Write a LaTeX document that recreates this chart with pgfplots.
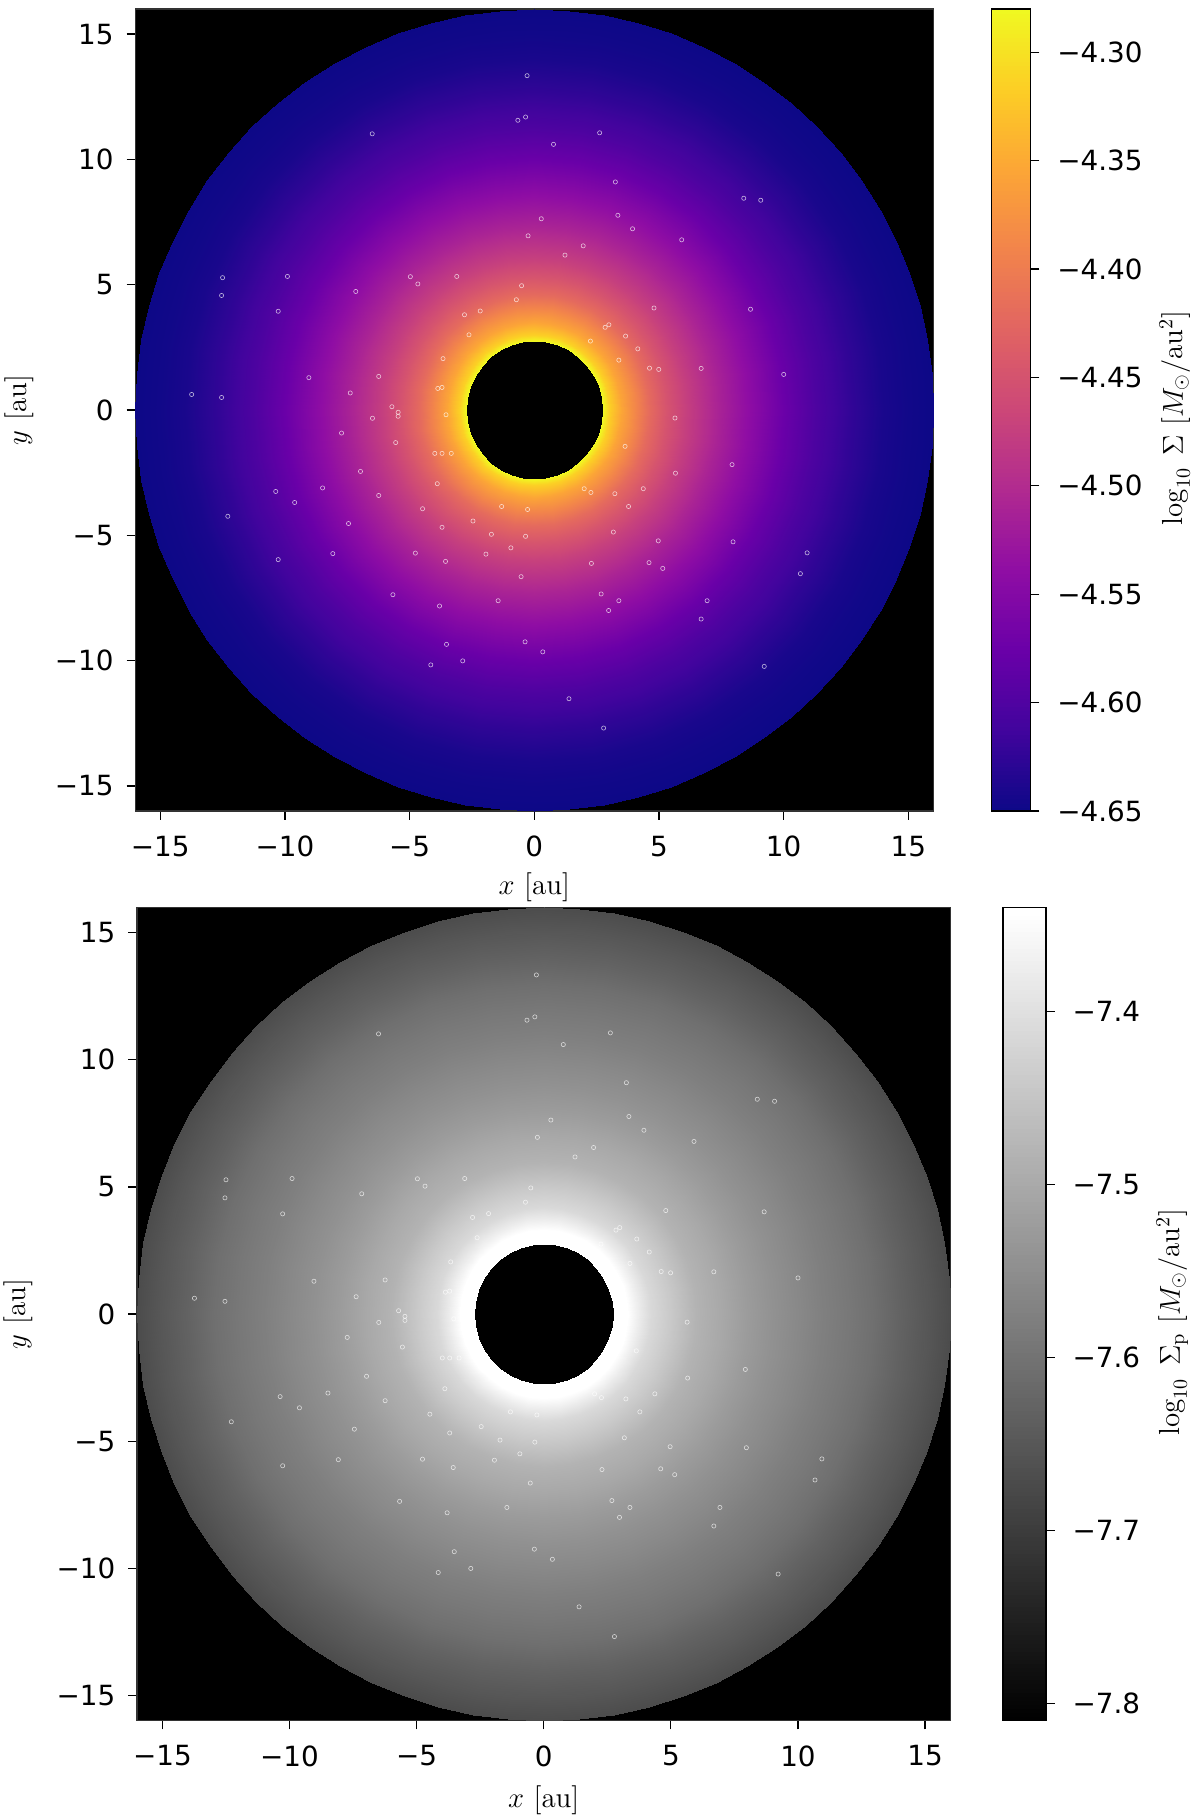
\documentclass[border=0pt]{standalone}
\usepackage{fontspec}
\usepackage{pgfplots}
\usepackage{pgfplotstable}
\pgfplotsset{compat=1.18}
\newfontfamily\dejavu{DejaVu Sans}
\newcommand\tl{\dejavu\fontsize{13.9}{16}\selectfont}
\newcommand\lbl{\fontsize{14.5}{17}\selectfont}
\pgfplotsset{colormap={plasma}{rgb255=(13,8,135) rgb255=(65,4,157) rgb255=(106,0,168) rgb255=(143,13,164) rgb255=(177,42,144) rgb255=(204,71,120) rgb255=(225,100,98) rgb255=(242,132,75) rgb255=(252,166,54) rgb255=(252,206,37) rgb255=(240,249,33)}}

% gas surface density, inner part: angle (deg), radius (au), log10 Sigma
\pgfplotstableread{
a r v
0 2.75 -4.280
10 2.75 -4.280
20 2.75 -4.280
30 2.75 -4.280
40 2.75 -4.280
50 2.75 -4.280
60 2.75 -4.280
70 2.75 -4.280
80 2.75 -4.280
90 2.75 -4.280
100 2.75 -4.280
110 2.75 -4.280
120 2.75 -4.280
130 2.75 -4.280
140 2.75 -4.280
150 2.75 -4.280
160 2.75 -4.280
170 2.75 -4.280
180 2.75 -4.280
190 2.75 -4.280
200 2.75 -4.280
210 2.75 -4.280
220 2.75 -4.280
230 2.75 -4.280
240 2.75 -4.280
250 2.75 -4.280
260 2.75 -4.280
270 2.75 -4.280
280 2.75 -4.280
290 2.75 -4.280
300 2.75 -4.280
310 2.75 -4.280
320 2.75 -4.280
330 2.75 -4.280
340 2.75 -4.280
350 2.75 -4.280
360 2.75 -4.280

0 3.0 -4.315
10 3.0 -4.315
20 3.0 -4.315
30 3.0 -4.315
40 3.0 -4.315
50 3.0 -4.315
60 3.0 -4.315
70 3.0 -4.315
80 3.0 -4.315
90 3.0 -4.315
100 3.0 -4.315
110 3.0 -4.315
120 3.0 -4.315
130 3.0 -4.315
140 3.0 -4.315
150 3.0 -4.315
160 3.0 -4.315
170 3.0 -4.315
180 3.0 -4.315
190 3.0 -4.315
200 3.0 -4.315
210 3.0 -4.315
220 3.0 -4.315
230 3.0 -4.315
240 3.0 -4.315
250 3.0 -4.315
260 3.0 -4.315
270 3.0 -4.315
280 3.0 -4.315
290 3.0 -4.315
300 3.0 -4.315
310 3.0 -4.315
320 3.0 -4.315
330 3.0 -4.315
340 3.0 -4.315
350 3.0 -4.315
360 3.0 -4.315

0 3.5 -4.356
10 3.5 -4.356
20 3.5 -4.356
30 3.5 -4.356
40 3.5 -4.356
50 3.5 -4.356
60 3.5 -4.356
70 3.5 -4.356
80 3.5 -4.356
90 3.5 -4.356
100 3.5 -4.356
110 3.5 -4.356
120 3.5 -4.356
130 3.5 -4.356
140 3.5 -4.356
150 3.5 -4.356
160 3.5 -4.356
170 3.5 -4.356
180 3.5 -4.356
190 3.5 -4.356
200 3.5 -4.356
210 3.5 -4.356
220 3.5 -4.356
230 3.5 -4.356
240 3.5 -4.356
250 3.5 -4.356
260 3.5 -4.356
270 3.5 -4.356
280 3.5 -4.356
290 3.5 -4.356
300 3.5 -4.356
310 3.5 -4.356
320 3.5 -4.356
330 3.5 -4.356
340 3.5 -4.356
350 3.5 -4.356
360 3.5 -4.356

0 4.0 -4.386
10 4.0 -4.386
20 4.0 -4.386
30 4.0 -4.386
40 4.0 -4.386
50 4.0 -4.386
60 4.0 -4.386
70 4.0 -4.386
80 4.0 -4.386
90 4.0 -4.386
100 4.0 -4.386
110 4.0 -4.386
120 4.0 -4.386
130 4.0 -4.386
140 4.0 -4.386
150 4.0 -4.386
160 4.0 -4.386
170 4.0 -4.386
180 4.0 -4.386
190 4.0 -4.386
200 4.0 -4.386
210 4.0 -4.386
220 4.0 -4.386
230 4.0 -4.386
240 4.0 -4.386
250 4.0 -4.386
260 4.0 -4.386
270 4.0 -4.386
280 4.0 -4.386
290 4.0 -4.386
300 4.0 -4.386
310 4.0 -4.386
320 4.0 -4.386
330 4.0 -4.386
340 4.0 -4.386
350 4.0 -4.386
360 4.0 -4.386

0 4.6 -4.420
10 4.6 -4.420
20 4.6 -4.420
30 4.6 -4.420
40 4.6 -4.420
50 4.6 -4.420
60 4.6 -4.420
70 4.6 -4.420
80 4.6 -4.420
90 4.6 -4.420
100 4.6 -4.420
110 4.6 -4.420
120 4.6 -4.420
130 4.6 -4.420
140 4.6 -4.420
150 4.6 -4.420
160 4.6 -4.420
170 4.6 -4.420
180 4.6 -4.420
190 4.6 -4.420
200 4.6 -4.420
210 4.6 -4.420
220 4.6 -4.420
230 4.6 -4.420
240 4.6 -4.420
250 4.6 -4.420
260 4.6 -4.420
270 4.6 -4.420
280 4.6 -4.420
290 4.6 -4.420
300 4.6 -4.420
310 4.6 -4.420
320 4.6 -4.420
330 4.6 -4.420
340 4.6 -4.420
350 4.6 -4.420
360 4.6 -4.420

0 5.3 -4.448
10 5.3 -4.448
20 5.3 -4.448
30 5.3 -4.448
40 5.3 -4.448
50 5.3 -4.448
60 5.3 -4.448
70 5.3 -4.448
80 5.3 -4.448
90 5.3 -4.448
100 5.3 -4.448
110 5.3 -4.448
120 5.3 -4.448
130 5.3 -4.448
140 5.3 -4.448
150 5.3 -4.448
160 5.3 -4.448
170 5.3 -4.448
180 5.3 -4.448
190 5.3 -4.448
200 5.3 -4.448
210 5.3 -4.448
220 5.3 -4.448
230 5.3 -4.448
240 5.3 -4.448
250 5.3 -4.448
260 5.3 -4.448
270 5.3 -4.448
280 5.3 -4.448
290 5.3 -4.448
300 5.3 -4.448
310 5.3 -4.448
320 5.3 -4.448
330 5.3 -4.448
340 5.3 -4.448
350 5.3 -4.448
360 5.3 -4.448

0 6.0 -4.472
10 6.0 -4.472
20 6.0 -4.472
30 6.0 -4.472
40 6.0 -4.472
50 6.0 -4.472
60 6.0 -4.472
70 6.0 -4.472
80 6.0 -4.472
90 6.0 -4.472
100 6.0 -4.472
110 6.0 -4.472
120 6.0 -4.472
130 6.0 -4.472
140 6.0 -4.472
150 6.0 -4.472
160 6.0 -4.472
170 6.0 -4.472
180 6.0 -4.472
190 6.0 -4.472
200 6.0 -4.472
210 6.0 -4.472
220 6.0 -4.472
230 6.0 -4.472
240 6.0 -4.472
250 6.0 -4.472
260 6.0 -4.472
270 6.0 -4.472
280 6.0 -4.472
290 6.0 -4.472
300 6.0 -4.472
310 6.0 -4.472
320 6.0 -4.472
330 6.0 -4.472
340 6.0 -4.472
350 6.0 -4.472
360 6.0 -4.472

0 7.3 -4.509
10 7.3 -4.509
20 7.3 -4.509
30 7.3 -4.509
40 7.3 -4.509
50 7.3 -4.509
60 7.3 -4.509
70 7.3 -4.509
80 7.3 -4.509
90 7.3 -4.509
100 7.3 -4.509
110 7.3 -4.509
120 7.3 -4.509
130 7.3 -4.509
140 7.3 -4.509
150 7.3 -4.509
160 7.3 -4.509
170 7.3 -4.509
180 7.3 -4.509
190 7.3 -4.509
200 7.3 -4.509
210 7.3 -4.509
220 7.3 -4.509
230 7.3 -4.509
240 7.3 -4.509
250 7.3 -4.509
260 7.3 -4.509
270 7.3 -4.509
280 7.3 -4.509
290 7.3 -4.509
300 7.3 -4.509
310 7.3 -4.509
320 7.3 -4.509
330 7.3 -4.509
340 7.3 -4.509
350 7.3 -4.509
360 7.3 -4.509

0 8.6 -4.540
10 8.6 -4.540
20 8.6 -4.540
30 8.6 -4.540
40 8.6 -4.540
50 8.6 -4.540
60 8.6 -4.540
70 8.6 -4.540
80 8.6 -4.540
90 8.6 -4.540
100 8.6 -4.540
110 8.6 -4.540
120 8.6 -4.540
130 8.6 -4.540
140 8.6 -4.540
150 8.6 -4.540
160 8.6 -4.540
170 8.6 -4.540
180 8.6 -4.540
190 8.6 -4.540
200 8.6 -4.540
210 8.6 -4.540
220 8.6 -4.540
230 8.6 -4.540
240 8.6 -4.540
250 8.6 -4.540
260 8.6 -4.540
270 8.6 -4.540
280 8.6 -4.540
290 8.6 -4.540
300 8.6 -4.540
310 8.6 -4.540
320 8.6 -4.540
330 8.6 -4.540
340 8.6 -4.540
350 8.6 -4.540
360 8.6 -4.540

0 10 -4.576
10 10 -4.576
20 10 -4.576
30 10 -4.576
40 10 -4.576
50 10 -4.576
60 10 -4.576
70 10 -4.576
80 10 -4.576
90 10 -4.576
100 10 -4.576
110 10 -4.576
120 10 -4.576
130 10 -4.576
140 10 -4.576
150 10 -4.576
160 10 -4.576
170 10 -4.576
180 10 -4.576
190 10 -4.576
200 10 -4.576
210 10 -4.576
220 10 -4.576
230 10 -4.576
240 10 -4.576
250 10 -4.576
260 10 -4.576
270 10 -4.576
280 10 -4.576
290 10 -4.576
300 10 -4.576
310 10 -4.576
320 10 -4.576
330 10 -4.576
340 10 -4.576
350 10 -4.576
360 10 -4.576

0 11.3 -4.602
10 11.3 -4.602
20 11.3 -4.602
30 11.3 -4.602
40 11.3 -4.602
50 11.3 -4.602
60 11.3 -4.602
70 11.3 -4.602
80 11.3 -4.602
90 11.3 -4.602
100 11.3 -4.602
110 11.3 -4.602
120 11.3 -4.602
130 11.3 -4.602
140 11.3 -4.602
150 11.3 -4.602
160 11.3 -4.602
170 11.3 -4.602
180 11.3 -4.602
190 11.3 -4.602
200 11.3 -4.602
210 11.3 -4.602
220 11.3 -4.602
230 11.3 -4.602
240 11.3 -4.602
250 11.3 -4.602
260 11.3 -4.602
270 11.3 -4.602
280 11.3 -4.602
290 11.3 -4.602
300 11.3 -4.602
310 11.3 -4.602
320 11.3 -4.602
330 11.3 -4.602
340 11.3 -4.602
350 11.3 -4.602
360 11.3 -4.602

0 12.7 -4.624
10 12.7 -4.624
20 12.7 -4.624
30 12.7 -4.624
40 12.7 -4.624
50 12.7 -4.624
60 12.7 -4.624
70 12.7 -4.624
80 12.7 -4.624
90 12.7 -4.624
100 12.7 -4.624
110 12.7 -4.624
120 12.7 -4.624
130 12.7 -4.624
140 12.7 -4.624
150 12.7 -4.624
160 12.7 -4.624
170 12.7 -4.624
180 12.7 -4.624
190 12.7 -4.624
200 12.7 -4.624
210 12.7 -4.624
220 12.7 -4.624
230 12.7 -4.624
240 12.7 -4.624
250 12.7 -4.624
260 12.7 -4.624
270 12.7 -4.624
280 12.7 -4.624
290 12.7 -4.624
300 12.7 -4.624
310 12.7 -4.624
320 12.7 -4.624
330 12.7 -4.624
340 12.7 -4.624
350 12.7 -4.624
360 12.7 -4.624

0 14 -4.641
10 14 -4.641
20 14 -4.641
30 14 -4.641
40 14 -4.641
50 14 -4.641
60 14 -4.641
70 14 -4.641
80 14 -4.641
90 14 -4.641
100 14 -4.641
110 14 -4.641
120 14 -4.641
130 14 -4.641
140 14 -4.641
150 14 -4.641
160 14 -4.641
170 14 -4.641
180 14 -4.641
190 14 -4.641
200 14 -4.641
210 14 -4.641
220 14 -4.641
230 14 -4.641
240 14 -4.641
250 14 -4.641
260 14 -4.641
270 14 -4.641
280 14 -4.641
290 14 -4.641
300 14 -4.641
310 14 -4.641
320 14 -4.641
330 14 -4.641
340 14 -4.641
350 14 -4.641
360 14 -4.641

0 15.2 -4.648
10 15.2 -4.648
20 15.2 -4.648
30 15.2 -4.648
40 15.2 -4.648
50 15.2 -4.648
60 15.2 -4.648
70 15.2 -4.648
80 15.2 -4.648
90 15.2 -4.648
100 15.2 -4.648
110 15.2 -4.648
120 15.2 -4.648
130 15.2 -4.648
140 15.2 -4.648
150 15.2 -4.648
160 15.2 -4.648
170 15.2 -4.648
180 15.2 -4.648
190 15.2 -4.648
200 15.2 -4.648
210 15.2 -4.648
220 15.2 -4.648
230 15.2 -4.648
240 15.2 -4.648
250 15.2 -4.648
260 15.2 -4.648
270 15.2 -4.648
280 15.2 -4.648
290 15.2 -4.648
300 15.2 -4.648
310 15.2 -4.648
320 15.2 -4.648
330 15.2 -4.648
340 15.2 -4.648
350 15.2 -4.648
360 15.2 -4.648
}\gasdata

% gas surface density, outer rim (finer in angle)
\pgfplotstableread{
a r v
0 15 -4.647
5 15 -4.647
10 15 -4.647
15 15 -4.647
20 15 -4.647
25 15 -4.647
30 15 -4.647
35 15 -4.647
40 15 -4.647
45 15 -4.647
50 15 -4.647
55 15 -4.647
60 15 -4.647
65 15 -4.647
70 15 -4.647
75 15 -4.647
80 15 -4.647
85 15 -4.647
90 15 -4.647
95 15 -4.647
100 15 -4.647
105 15 -4.647
110 15 -4.647
115 15 -4.647
120 15 -4.647
125 15 -4.647
130 15 -4.647
135 15 -4.647
140 15 -4.647
145 15 -4.647
150 15 -4.647
155 15 -4.647
160 15 -4.647
165 15 -4.647
170 15 -4.647
175 15 -4.647
180 15 -4.647
185 15 -4.647
190 15 -4.647
195 15 -4.647
200 15 -4.647
205 15 -4.647
210 15 -4.647
215 15 -4.647
220 15 -4.647
225 15 -4.647
230 15 -4.647
235 15 -4.647
240 15 -4.647
245 15 -4.647
250 15 -4.647
255 15 -4.647
260 15 -4.647
265 15 -4.647
270 15 -4.647
275 15 -4.647
280 15 -4.647
285 15 -4.647
290 15 -4.647
295 15 -4.647
300 15 -4.647
305 15 -4.647
310 15 -4.647
315 15 -4.647
320 15 -4.647
325 15 -4.647
330 15 -4.647
335 15 -4.647
340 15 -4.647
345 15 -4.647
350 15 -4.647
355 15 -4.647
360 15 -4.647

0 16 -4.650
5 16 -4.650
10 16 -4.650
15 16 -4.650
20 16 -4.650
25 16 -4.650
30 16 -4.650
35 16 -4.650
40 16 -4.650
45 16 -4.650
50 16 -4.650
55 16 -4.650
60 16 -4.650
65 16 -4.650
70 16 -4.650
75 16 -4.650
80 16 -4.650
85 16 -4.650
90 16 -4.650
95 16 -4.650
100 16 -4.650
105 16 -4.650
110 16 -4.650
115 16 -4.650
120 16 -4.650
125 16 -4.650
130 16 -4.650
135 16 -4.650
140 16 -4.650
145 16 -4.650
150 16 -4.650
155 16 -4.650
160 16 -4.650
165 16 -4.650
170 16 -4.650
175 16 -4.650
180 16 -4.650
185 16 -4.650
190 16 -4.650
195 16 -4.650
200 16 -4.650
205 16 -4.650
210 16 -4.650
215 16 -4.650
220 16 -4.650
225 16 -4.650
230 16 -4.650
235 16 -4.650
240 16 -4.650
245 16 -4.650
250 16 -4.650
255 16 -4.650
260 16 -4.650
265 16 -4.650
270 16 -4.650
275 16 -4.650
280 16 -4.650
285 16 -4.650
290 16 -4.650
295 16 -4.650
300 16 -4.650
305 16 -4.650
310 16 -4.650
315 16 -4.650
320 16 -4.650
325 16 -4.650
330 16 -4.650
335 16 -4.650
340 16 -4.650
345 16 -4.650
350 16 -4.650
355 16 -4.650
360 16 -4.650
}\gasrim

% particle surface density, inner part: angle (deg), radius (au), log10 Sigma_p
\pgfplotstableread{
a r v
0 2.75 -7.34
10 2.75 -7.34
20 2.75 -7.34
30 2.75 -7.34
40 2.75 -7.34
50 2.75 -7.34
60 2.75 -7.34
70 2.75 -7.34
80 2.75 -7.34
90 2.75 -7.34
100 2.75 -7.34
110 2.75 -7.34
120 2.75 -7.34
130 2.75 -7.34
140 2.75 -7.34
150 2.75 -7.34
160 2.75 -7.34
170 2.75 -7.34
180 2.75 -7.34
190 2.75 -7.34
200 2.75 -7.34
210 2.75 -7.34
220 2.75 -7.34
230 2.75 -7.34
240 2.75 -7.34
250 2.75 -7.34
260 2.75 -7.34
270 2.75 -7.34
280 2.75 -7.34
290 2.75 -7.34
300 2.75 -7.34
310 2.75 -7.34
320 2.75 -7.34
330 2.75 -7.34
340 2.75 -7.34
350 2.75 -7.34
360 2.75 -7.34

0 3.3 -7.34
10 3.3 -7.34
20 3.3 -7.34
30 3.3 -7.34
40 3.3 -7.34
50 3.3 -7.34
60 3.3 -7.34
70 3.3 -7.34
80 3.3 -7.34
90 3.3 -7.34
100 3.3 -7.34
110 3.3 -7.34
120 3.3 -7.34
130 3.3 -7.34
140 3.3 -7.34
150 3.3 -7.34
160 3.3 -7.34
170 3.3 -7.34
180 3.3 -7.34
190 3.3 -7.34
200 3.3 -7.34
210 3.3 -7.34
220 3.3 -7.34
230 3.3 -7.34
240 3.3 -7.34
250 3.3 -7.34
260 3.3 -7.34
270 3.3 -7.34
280 3.3 -7.34
290 3.3 -7.34
300 3.3 -7.34
310 3.3 -7.34
320 3.3 -7.34
330 3.3 -7.34
340 3.3 -7.34
350 3.3 -7.34
360 3.3 -7.34

0 3.7 -7.372
10 3.7 -7.372
20 3.7 -7.372
30 3.7 -7.372
40 3.7 -7.372
50 3.7 -7.372
60 3.7 -7.372
70 3.7 -7.372
80 3.7 -7.372
90 3.7 -7.372
100 3.7 -7.372
110 3.7 -7.372
120 3.7 -7.372
130 3.7 -7.372
140 3.7 -7.372
150 3.7 -7.372
160 3.7 -7.372
170 3.7 -7.372
180 3.7 -7.372
190 3.7 -7.372
200 3.7 -7.372
210 3.7 -7.372
220 3.7 -7.372
230 3.7 -7.372
240 3.7 -7.372
250 3.7 -7.372
260 3.7 -7.372
270 3.7 -7.372
280 3.7 -7.372
290 3.7 -7.372
300 3.7 -7.372
310 3.7 -7.372
320 3.7 -7.372
330 3.7 -7.372
340 3.7 -7.372
350 3.7 -7.372
360 3.7 -7.372

0 4.2 -7.410
10 4.2 -7.410
20 4.2 -7.410
30 4.2 -7.410
40 4.2 -7.410
50 4.2 -7.410
60 4.2 -7.410
70 4.2 -7.410
80 4.2 -7.410
90 4.2 -7.410
100 4.2 -7.410
110 4.2 -7.410
120 4.2 -7.410
130 4.2 -7.410
140 4.2 -7.410
150 4.2 -7.410
160 4.2 -7.410
170 4.2 -7.410
180 4.2 -7.410
190 4.2 -7.410
200 4.2 -7.410
210 4.2 -7.410
220 4.2 -7.410
230 4.2 -7.410
240 4.2 -7.410
250 4.2 -7.410
260 4.2 -7.410
270 4.2 -7.410
280 4.2 -7.410
290 4.2 -7.410
300 4.2 -7.410
310 4.2 -7.410
320 4.2 -7.410
330 4.2 -7.410
340 4.2 -7.410
350 4.2 -7.410
360 4.2 -7.410

0 5 -7.440
10 5 -7.440
20 5 -7.440
30 5 -7.440
40 5 -7.440
50 5 -7.440
60 5 -7.440
70 5 -7.440
80 5 -7.440
90 5 -7.440
100 5 -7.440
110 5 -7.440
120 5 -7.440
130 5 -7.440
140 5 -7.440
150 5 -7.440
160 5 -7.440
170 5 -7.440
180 5 -7.440
190 5 -7.440
200 5 -7.440
210 5 -7.440
220 5 -7.440
230 5 -7.440
240 5 -7.440
250 5 -7.440
260 5 -7.440
270 5 -7.440
280 5 -7.440
290 5 -7.440
300 5 -7.440
310 5 -7.440
320 5 -7.440
330 5 -7.440
340 5 -7.440
350 5 -7.440
360 5 -7.440

0 6 -7.480
10 6 -7.480
20 6 -7.480
30 6 -7.480
40 6 -7.480
50 6 -7.480
60 6 -7.480
70 6 -7.480
80 6 -7.480
90 6 -7.480
100 6 -7.480
110 6 -7.480
120 6 -7.480
130 6 -7.480
140 6 -7.480
150 6 -7.480
160 6 -7.480
170 6 -7.480
180 6 -7.480
190 6 -7.480
200 6 -7.480
210 6 -7.480
220 6 -7.480
230 6 -7.480
240 6 -7.480
250 6 -7.480
260 6 -7.480
270 6 -7.480
280 6 -7.480
290 6 -7.480
300 6 -7.480
310 6 -7.480
320 6 -7.480
330 6 -7.480
340 6 -7.480
350 6 -7.480
360 6 -7.480

0 7 -7.500
10 7 -7.500
20 7 -7.500
30 7 -7.500
40 7 -7.500
50 7 -7.500
60 7 -7.500
70 7 -7.500
80 7 -7.500
90 7 -7.500
100 7 -7.500
110 7 -7.500
120 7 -7.500
130 7 -7.500
140 7 -7.500
150 7 -7.500
160 7 -7.500
170 7 -7.500
180 7 -7.500
190 7 -7.500
200 7 -7.500
210 7 -7.500
220 7 -7.500
230 7 -7.500
240 7 -7.500
250 7 -7.500
260 7 -7.500
270 7 -7.500
280 7 -7.500
290 7 -7.500
300 7 -7.500
310 7 -7.500
320 7 -7.500
330 7 -7.500
340 7 -7.500
350 7 -7.500
360 7 -7.500

0 8 -7.523
10 8 -7.523
20 8 -7.523
30 8 -7.523
40 8 -7.523
50 8 -7.523
60 8 -7.523
70 8 -7.523
80 8 -7.523
90 8 -7.523
100 8 -7.523
110 8 -7.523
120 8 -7.523
130 8 -7.523
140 8 -7.523
150 8 -7.523
160 8 -7.523
170 8 -7.523
180 8 -7.523
190 8 -7.523
200 8 -7.523
210 8 -7.523
220 8 -7.523
230 8 -7.523
240 8 -7.523
250 8 -7.523
260 8 -7.523
270 8 -7.523
280 8 -7.523
290 8 -7.523
300 8 -7.523
310 8 -7.523
320 8 -7.523
330 8 -7.523
340 8 -7.523
350 8 -7.523
360 8 -7.523

0 9 -7.542
10 9 -7.542
20 9 -7.542
30 9 -7.542
40 9 -7.542
50 9 -7.542
60 9 -7.542
70 9 -7.542
80 9 -7.542
90 9 -7.542
100 9 -7.542
110 9 -7.542
120 9 -7.542
130 9 -7.542
140 9 -7.542
150 9 -7.542
160 9 -7.542
170 9 -7.542
180 9 -7.542
190 9 -7.542
200 9 -7.542
210 9 -7.542
220 9 -7.542
230 9 -7.542
240 9 -7.542
250 9 -7.542
260 9 -7.542
270 9 -7.542
280 9 -7.542
290 9 -7.542
300 9 -7.542
310 9 -7.542
320 9 -7.542
330 9 -7.542
340 9 -7.542
350 9 -7.542
360 9 -7.542

0 10 -7.558
10 10 -7.558
20 10 -7.558
30 10 -7.558
40 10 -7.558
50 10 -7.558
60 10 -7.558
70 10 -7.558
80 10 -7.558
90 10 -7.558
100 10 -7.558
110 10 -7.558
120 10 -7.558
130 10 -7.558
140 10 -7.558
150 10 -7.558
160 10 -7.558
170 10 -7.558
180 10 -7.558
190 10 -7.558
200 10 -7.558
210 10 -7.558
220 10 -7.558
230 10 -7.558
240 10 -7.558
250 10 -7.558
260 10 -7.558
270 10 -7.558
280 10 -7.558
290 10 -7.558
300 10 -7.558
310 10 -7.558
320 10 -7.558
330 10 -7.558
340 10 -7.558
350 10 -7.558
360 10 -7.558

0 11 -7.575
10 11 -7.575
20 11 -7.575
30 11 -7.575
40 11 -7.575
50 11 -7.575
60 11 -7.575
70 11 -7.575
80 11 -7.575
90 11 -7.575
100 11 -7.575
110 11 -7.575
120 11 -7.575
130 11 -7.575
140 11 -7.575
150 11 -7.575
160 11 -7.575
170 11 -7.575
180 11 -7.575
190 11 -7.575
200 11 -7.575
210 11 -7.575
220 11 -7.575
230 11 -7.575
240 11 -7.575
250 11 -7.575
260 11 -7.575
270 11 -7.575
280 11 -7.575
290 11 -7.575
300 11 -7.575
310 11 -7.575
320 11 -7.575
330 11 -7.575
340 11 -7.575
350 11 -7.575
360 11 -7.575

0 12 -7.589
10 12 -7.589
20 12 -7.589
30 12 -7.589
40 12 -7.589
50 12 -7.589
60 12 -7.589
70 12 -7.589
80 12 -7.589
90 12 -7.589
100 12 -7.589
110 12 -7.589
120 12 -7.589
130 12 -7.589
140 12 -7.589
150 12 -7.589
160 12 -7.589
170 12 -7.589
180 12 -7.589
190 12 -7.589
200 12 -7.589
210 12 -7.589
220 12 -7.589
230 12 -7.589
240 12 -7.589
250 12 -7.589
260 12 -7.589
270 12 -7.589
280 12 -7.589
290 12 -7.589
300 12 -7.589
310 12 -7.589
320 12 -7.589
330 12 -7.589
340 12 -7.589
350 12 -7.589
360 12 -7.589

0 13 -7.605
10 13 -7.605
20 13 -7.605
30 13 -7.605
40 13 -7.605
50 13 -7.605
60 13 -7.605
70 13 -7.605
80 13 -7.605
90 13 -7.605
100 13 -7.605
110 13 -7.605
120 13 -7.605
130 13 -7.605
140 13 -7.605
150 13 -7.605
160 13 -7.605
170 13 -7.605
180 13 -7.605
190 13 -7.605
200 13 -7.605
210 13 -7.605
220 13 -7.605
230 13 -7.605
240 13 -7.605
250 13 -7.605
260 13 -7.605
270 13 -7.605
280 13 -7.605
290 13 -7.605
300 13 -7.605
310 13 -7.605
320 13 -7.605
330 13 -7.605
340 13 -7.605
350 13 -7.605
360 13 -7.605

0 14 -7.628
10 14 -7.628
20 14 -7.628
30 14 -7.628
40 14 -7.628
50 14 -7.628
60 14 -7.628
70 14 -7.628
80 14 -7.628
90 14 -7.628
100 14 -7.628
110 14 -7.628
120 14 -7.628
130 14 -7.628
140 14 -7.628
150 14 -7.628
160 14 -7.628
170 14 -7.628
180 14 -7.628
190 14 -7.628
200 14 -7.628
210 14 -7.628
220 14 -7.628
230 14 -7.628
240 14 -7.628
250 14 -7.628
260 14 -7.628
270 14 -7.628
280 14 -7.628
290 14 -7.628
300 14 -7.628
310 14 -7.628
320 14 -7.628
330 14 -7.628
340 14 -7.628
350 14 -7.628
360 14 -7.628

0 15.2 -7.652
10 15.2 -7.652
20 15.2 -7.652
30 15.2 -7.652
40 15.2 -7.652
50 15.2 -7.652
60 15.2 -7.652
70 15.2 -7.652
80 15.2 -7.652
90 15.2 -7.652
100 15.2 -7.652
110 15.2 -7.652
120 15.2 -7.652
130 15.2 -7.652
140 15.2 -7.652
150 15.2 -7.652
160 15.2 -7.652
170 15.2 -7.652
180 15.2 -7.652
190 15.2 -7.652
200 15.2 -7.652
210 15.2 -7.652
220 15.2 -7.652
230 15.2 -7.652
240 15.2 -7.652
250 15.2 -7.652
260 15.2 -7.652
270 15.2 -7.652
280 15.2 -7.652
290 15.2 -7.652
300 15.2 -7.652
310 15.2 -7.652
320 15.2 -7.652
330 15.2 -7.652
340 15.2 -7.652
350 15.2 -7.652
360 15.2 -7.652
}\dustdata

% particle surface density, outer rim (finer in angle)
\pgfplotstableread{
a r v
0 15 -7.648
5 15 -7.648
10 15 -7.648
15 15 -7.648
20 15 -7.648
25 15 -7.648
30 15 -7.648
35 15 -7.648
40 15 -7.648
45 15 -7.648
50 15 -7.648
55 15 -7.648
60 15 -7.648
65 15 -7.648
70 15 -7.648
75 15 -7.648
80 15 -7.648
85 15 -7.648
90 15 -7.648
95 15 -7.648
100 15 -7.648
105 15 -7.648
110 15 -7.648
115 15 -7.648
120 15 -7.648
125 15 -7.648
130 15 -7.648
135 15 -7.648
140 15 -7.648
145 15 -7.648
150 15 -7.648
155 15 -7.648
160 15 -7.648
165 15 -7.648
170 15 -7.648
175 15 -7.648
180 15 -7.648
185 15 -7.648
190 15 -7.648
195 15 -7.648
200 15 -7.648
205 15 -7.648
210 15 -7.648
215 15 -7.648
220 15 -7.648
225 15 -7.648
230 15 -7.648
235 15 -7.648
240 15 -7.648
245 15 -7.648
250 15 -7.648
255 15 -7.648
260 15 -7.648
265 15 -7.648
270 15 -7.648
275 15 -7.648
280 15 -7.648
285 15 -7.648
290 15 -7.648
295 15 -7.648
300 15 -7.648
305 15 -7.648
310 15 -7.648
315 15 -7.648
320 15 -7.648
325 15 -7.648
330 15 -7.648
335 15 -7.648
340 15 -7.648
345 15 -7.648
350 15 -7.648
355 15 -7.648
360 15 -7.648

0 16 -7.670
5 16 -7.670
10 16 -7.670
15 16 -7.670
20 16 -7.670
25 16 -7.670
30 16 -7.670
35 16 -7.670
40 16 -7.670
45 16 -7.670
50 16 -7.670
55 16 -7.670
60 16 -7.670
65 16 -7.670
70 16 -7.670
75 16 -7.670
80 16 -7.670
85 16 -7.670
90 16 -7.670
95 16 -7.670
100 16 -7.670
105 16 -7.670
110 16 -7.670
115 16 -7.670
120 16 -7.670
125 16 -7.670
130 16 -7.670
135 16 -7.670
140 16 -7.670
145 16 -7.670
150 16 -7.670
155 16 -7.670
160 16 -7.670
165 16 -7.670
170 16 -7.670
175 16 -7.670
180 16 -7.670
185 16 -7.670
190 16 -7.670
195 16 -7.670
200 16 -7.670
205 16 -7.670
210 16 -7.670
215 16 -7.670
220 16 -7.670
225 16 -7.670
230 16 -7.670
235 16 -7.670
240 16 -7.670
245 16 -7.670
250 16 -7.670
255 16 -7.670
260 16 -7.670
265 16 -7.670
270 16 -7.670
275 16 -7.670
280 16 -7.670
285 16 -7.670
290 16 -7.670
295 16 -7.670
300 16 -7.670
305 16 -7.670
310 16 -7.670
315 16 -7.670
320 16 -7.670
325 16 -7.670
330 16 -7.670
335 16 -7.670
340 16 -7.670
345 16 -7.670
350 16 -7.670
355 16 -7.670
360 16 -7.670
}\dustrim

% positions of the embedded bodies (au)
\pgfplotstableread{
x y
-0.29 13.34
-0.66 11.56
-0.35 11.69
-6.50 11.02
2.62 11.06
0.77 10.60
3.25 9.10
8.40 8.45
9.08 8.37
0.28 7.63
3.35 7.77
3.94 7.23
-0.25 6.95
5.91 6.79
1.96 6.55
1.23 6.18
-12.50 5.28
-9.90 5.33
-12.54 4.57
-4.97 5.32
-4.67 5.03
-3.11 5.33
-7.16 4.73
-10.27 3.94
-0.51 4.96
-0.72 4.40
-2.80 3.80
-2.17 3.95
4.80 4.07
8.67 4.02
2.84 3.30
2.99 3.40
-2.62 3.00
3.66 2.95
2.25 2.75
4.15 2.44
3.39 1.99
4.62 1.67
4.99 1.62
6.69 1.66
10.00 1.42
-3.66 2.05
-6.24 1.34
-9.04 1.29
-7.38 0.68
-13.74 0.62
-12.54 0.50
-3.87 0.86
-3.70 0.90
-5.71 0.13
-6.49 -0.33
-5.46 -0.09
-5.46 -0.25
-3.54 -0.19
5.64 -0.32
-7.73 -0.92
-5.56 -1.30
-3.99 -1.73
-3.70 -1.73
-3.33 -1.73
3.64 -1.45
7.93 -2.18
-6.97 -2.45
5.66 -2.52
-3.89 -2.94
-10.37 -3.25
-8.49 -3.11
-6.24 -3.41
2.00 -3.14
2.27 -3.29
3.23 -3.34
4.37 -3.14
-9.61 -3.69
-12.29 -4.24
-4.48 -3.94
-1.31 -3.85
-0.27 -3.97
3.78 -3.85
-7.45 -4.53
-3.70 -4.68
-2.46 -4.43
-1.72 -4.96
-0.35 -5.04
3.17 -4.87
4.97 -5.22
7.97 -5.26
10.94 -5.70
10.67 -6.53
-10.27 -5.97
-8.08 -5.73
-4.77 -5.71
-3.56 -6.04
-1.94 -5.75
-0.94 -5.50
2.29 -6.12
4.60 -6.09
5.15 -6.32
-0.53 -6.65
-5.67 -7.37
-3.80 -7.82
-1.45 -7.61
2.68 -7.34
3.39 -7.61
2.98 -8.00
6.93 -7.61
6.69 -8.34
-3.52 -9.35
-0.37 -9.25
0.34 -9.65
-4.15 -10.17
-2.87 -10.01
9.22 -10.23
1.39 -11.52
2.78 -12.69
}\bodies

\pgfplotsset{
  diskaxis/.style={
    scale only axis,
    xmin=-16, xmax=16, ymin=-16, ymax=16,
    axis background/.style={fill=black},
    axis line style={line width=0.6pt, black!80},
    tick align=outside,
    major tick length=4.35pt,
    tick style={black, line width=0.6pt},
    xtick pos=left, ytick pos=left,
    xtick={-15,-10,-5,0,5,10,15},
    ytick={-15,-10,-5,0,5,10,15},
    xticklabels={−15,−10,−5,0,5,10,15},
    yticklabels={−15,−10,−5,0,5,10,15},
    tick label style={font=\tl},
    xticklabel style={yshift=-4.5pt},
    yticklabel style={xshift=-3pt},
    xlabel={$x$ [au]},
    ylabel={$y$ [au]},
    label style={font=\lbl},
    colorbar sampled,
  },
  cbstyle/.style={
    at={(parent axis.north east)}, anchor=north west,
    samples=200,
    axis line style={line width=0.6pt, black},
    tick align=outside, major tick length=4.35pt,
    tick style={black, line width=0.6pt},
    ytick pos=right,
    yticklabel style={font=\tl, xshift=5.5pt},
  },
  bodystyle/.style={only marks, mark=o, mark size=1.05pt,
    mark options={draw=white, line width=0.3pt, opacity=0.7}},
}

\begin{document}
\begin{tikzpicture}
\useasboundingbox (0,0) rectangle (600pt,-909pt);

\begin{axis}[diskaxis,
  at={(67.65pt,-405.5pt)}, anchor=south west,
  width=399pt, height=401pt,
  xlabel style={at={(axis description cs:0.5,-0.095)}, anchor=center},
  ylabel style={at={(axis description cs:-0.1454,0.5)}, anchor=center},
  colormap name=plasma,
  point meta min=-4.65, point meta max=-4.28,
  colorbar style={cbstyle,
    xshift=20.46pt,
    width=19.65pt,
    ytick={-4.65,-4.60,-4.55,-4.50,-4.45,-4.40,-4.35,-4.30},
    yticklabels={−4.65,−4.60,−4.55,−4.50,−4.45,−4.40,−4.35,−4.30},
    ylabel={$\log_{10}\;\Sigma\ [M_\odot/\mathrm{au}^2]$},
    ylabel style={font=\lbl, at={(axis description cs:4.67,0.49)}, anchor=center},
  },
]
\addplot[surf, shader=interp, data cs=polar, mesh/cols=37, point meta=explicit]
  table[x=a, y=r, meta=v] {\gasdata};
\addplot[surf, shader=interp, data cs=polar, mesh/cols=73, point meta=explicit]
  table[x=a, y=r, meta=v] {\gasrim};
\addplot[bodystyle] table[x=x, y=y] {\bodies};
\end{axis}

\begin{axis}[diskaxis,
  at={(68.5pt,-860.35pt)}, anchor=south west,
  width=406.75pt, height=406.7pt,
  xlabel style={at={(axis description cs:0.5,-0.0975)}, anchor=center},
  ylabel style={at={(axis description cs:-0.1456,0.5)}, anchor=center},
  colormap/blackwhite,
  point meta min=-7.81, point meta max=-7.34,
  colorbar style={cbstyle,
    xshift=17.66pt,
    width=21.5pt,
    ytick={-7.8,-7.7,-7.6,-7.5,-7.4},
    yticklabels={−7.8,−7.7,−7.6,−7.5,−7.4},
    ylabel={$\log_{10}\;\Sigma_{\mathrm{p}}\ [M_\odot/\mathrm{au}^2]$},
    ylabel style={font=\lbl, at={(axis description cs:3.94,0.49)}, anchor=center},
  },
]
\addplot[surf, shader=interp, data cs=polar, mesh/cols=37, point meta=explicit]
  table[x=a, y=r, meta=v] {\dustdata};
\addplot[surf, shader=interp, data cs=polar, mesh/cols=73, point meta=explicit]
  table[x=a, y=r, meta=v] {\dustrim};
\addplot[bodystyle] table[x=x, y=y] {\bodies};
\end{axis}
\end{tikzpicture}
\end{document}
